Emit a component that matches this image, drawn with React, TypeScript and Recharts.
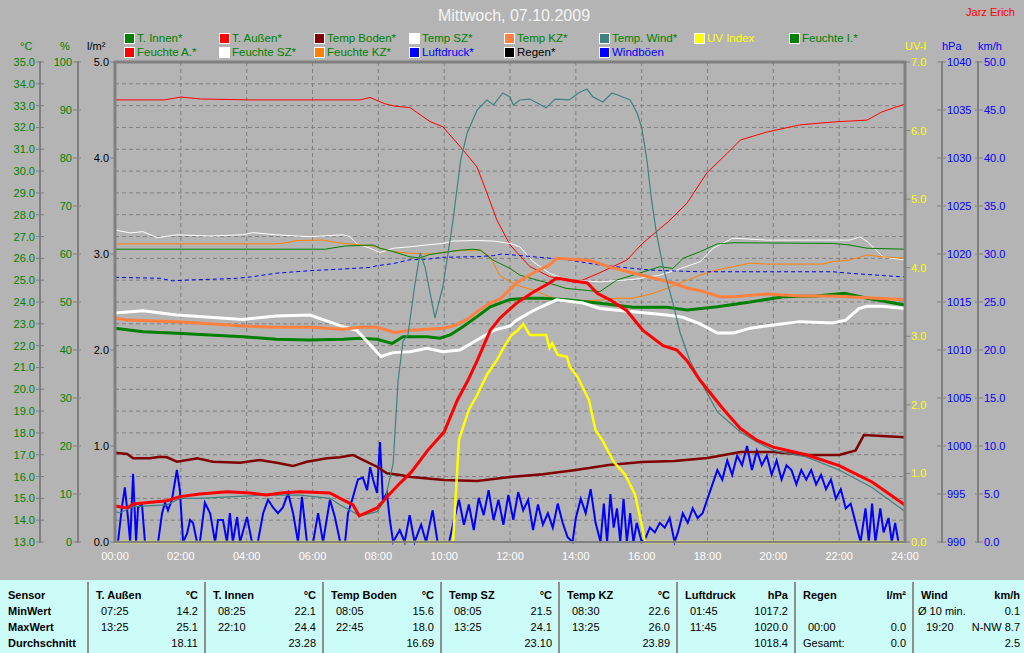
import React from 'react';
import { LineChart, Line, XAxis, YAxis, CartesianGrid } from 'recharts';

type Pt = [number, number];

// axis ticks
const hourTicks = [0, 2, 4, 6, 8, 10, 12, 14, 16, 18, 20, 22, 24];
const tempTicks = [13, 14, 15, 16, 17, 18, 19, 20, 21, 22, 23, 24, 25, 26, 27, 28, 29, 30, 31, 32, 33, 34, 35];
const humTicks = [0, 10, 20, 30, 40, 50, 60, 70, 80, 90, 100];
const rainTicks = [0, 1, 2, 3, 4, 5];
const uvTicks = [0, 1, 2, 3, 4, 5, 6, 7];
const hpaTicks = [990, 995, 1000, 1005, 1010, 1015, 1020, 1025, 1030, 1035, 1040];
const kmhTicks = [0, 5, 10, 15, 20, 25, 30, 35, 40, 45, 50];

// series, [hour, value]
const tInnen: Pt[] = [
  [0, 22.8], [0.85, 22.64], [1.88, 22.57], [2.88, 22.49], [3.88, 22.41], [4.9, 22.29], [5.92, 22.26],
  [6.93, 22.29], [7.44, 22.34], [7.96, 22.29], [8.42, 22.1], [8.75, 22.41], [9.48, 22.41], [9.87, 22.34],
  [10.18, 22.49], [10.57, 22.87], [11.0, 23.33], [11.4, 23.78], [12.0, 24.12], [12.5, 24.17], [13.0, 24.17],
  [13.73, 24.1], [14.73, 23.94], [15.74, 23.76], [16.77, 23.76], [17.38, 23.63], [18.3, 23.78], [19.3, 24.0],
  [20.3, 24.24], [21.3, 24.27], [22.17, 24.4], [22.85, 24.17], [24, 23.86],
];
const tAussen: Pt[] = [
  [0, 14.65], [0.37, 14.56], [0.55, 14.74], [1.58, 14.89], [1.97, 15.08], [2.58, 15.2], [3.4, 15.3],
  [4.1, 15.25], [4.6, 15.15], [5.1, 15.26], [5.62, 15.3], [6.53, 15.25], [6.84, 15.0], [7.23, 14.7],
  [7.42, 14.2], [7.96, 14.56], [8.26, 15.06], [8.66, 15.7], [9.0, 16.2], [9.5, 17.2], [10.0, 18.05],
  [10.4, 19.5], [10.72, 20.4], [11.0, 21.3], [11.4, 22.7], [11.7, 23.27], [12.2, 23.95], [12.7, 24.45],
  [13.2, 24.87], [13.42, 25.1], [13.8, 25.0], [14.35, 24.87], [14.65, 24.4], [15.04, 24.1], [15.55, 23.6],
  [16.04, 22.7], [16.65, 22.0], [17.07, 21.8], [17.38, 21.3], [17.78, 20.4], [18.5, 19.05], [19.0, 18.2],
  [19.5, 17.67], [20.0, 17.35], [21.0, 17.0], [22.0, 16.5], [23.0, 15.75], [24, 14.7],
];
const tBoden: Pt[] = [
  [0, 17.09], [0.37, 17.03], [0.55, 16.84], [1.06, 16.84], [1.37, 16.91], [1.58, 16.88], [1.88, 16.68],
  [2.2, 16.76], [2.5, 16.84], [2.98, 16.68], [3.8, 16.63], [4.4, 16.76], [5.0, 16.61], [5.4, 16.48],
  [5.83, 16.68], [6.44, 16.84], [6.84, 16.88], [7.23, 16.99], [7.53, 16.76], [7.96, 16.45], [8.26, 16.15],
  [8.66, 16.07], [9.0, 15.98], [10.0, 15.84], [11.0, 15.8], [12.0, 15.98], [13.0, 16.1], [14.0, 16.3],
  [15.0, 16.53], [16.0, 16.67], [17.0, 16.71], [18.0, 16.85], [19.0, 17.12], [20.0, 17.12], [21.0, 16.99],
  [22.0, 16.99], [22.5, 17.2], [22.75, 17.9], [23.3, 17.86], [24, 17.8],
];
const tSZ: Pt[] = [
  [0, 23.5], [0.85, 23.6], [1.88, 23.4], [2.88, 23.3], [3.88, 23.2], [4.9, 23.36], [5.92, 23.4],
  [6.93, 22.87], [7.35, 22.7], [8.08, 21.5], [8.45, 21.68], [8.96, 21.72], [9.48, 21.88], [9.96, 21.72],
  [10.48, 21.8], [11.0, 22.26], [11.5, 22.7], [12.0, 22.9], [12.2, 23.17], [12.7, 23.6], [13.2, 23.95],
  [13.42, 24.1], [14.22, 23.95], [14.73, 23.7], [15.74, 23.55], [16.77, 23.4], [17.25, 23.3], [17.78, 23.0],
  [18.3, 22.58], [18.8, 22.58], [19.3, 22.8], [20.0, 22.95], [20.8, 23.1], [21.8, 23.04], [22.2, 23.17],
  [22.6, 23.7], [22.85, 23.8], [23.3, 23.8], [24, 23.7],
];
const tKZ: Pt[] = [
  [0, 23.27], [0.37, 23.17], [1.88, 23.1], [2.88, 23.0], [3.88, 22.9], [4.9, 22.84], [5.92, 22.84],
  [6.93, 22.75], [7.44, 22.84], [7.96, 22.84], [8.5, 22.6], [8.96, 22.7], [9.48, 22.75], [9.96, 22.8],
  [10.27, 22.9], [10.7, 23.2], [11.0, 23.56], [11.4, 23.95], [11.7, 24.14], [12.2, 24.87], [12.7, 25.33],
  [13.2, 25.7], [13.42, 26.0], [14.43, 25.9], [15.04, 25.6], [15.74, 25.33], [16.35, 25.1], [16.95, 24.87],
  [17.38, 24.64], [17.78, 24.52], [18.38, 24.24], [18.8, 24.24], [19.8, 24.37], [20.8, 24.27], [21.8, 24.27],
  [22.85, 24.2], [24, 24.1],
];
const tWind: Pt[] = [
  [0, 14.39], [0.15, 14.33], [0.55, 14.62], [1.58, 14.7], [1.97, 15.0], [2.58, 15.0], [3.58, 15.08],
  [4.6, 15.15], [5.62, 15.15], [6.53, 15.0], [6.84, 14.7], [7.44, 14.2], [7.96, 14.39], [8.2, 14.9],
  [8.45, 16.6], [8.6, 20.4], [8.75, 22.2], [8.9, 22.5], [9.1, 24.7], [9.27, 26.25], [9.42, 25.6],
  [9.72, 23.27], [9.96, 24.7], [10.18, 26.84], [10.27, 27.76], [10.5, 30.5], [10.7, 31.75], [11.0, 32.8],
  [11.3, 33.26], [11.5, 33.03], [11.78, 33.58], [12.0, 33.4], [12.1, 33.03], [12.3, 33.26], [12.6, 33.3],
  [13.1, 32.9], [13.37, 33.3], [13.8, 33.26], [14.1, 33.6], [14.34, 33.76], [14.52, 33.4], [14.82, 33.17],
  [15.1, 33.58], [15.35, 33.44], [15.65, 33.26], [15.86, 32.66], [16.0, 32.0], [16.16, 30.5], [16.3, 28.67],
  [16.45, 27.16], [16.65, 25.6], [16.95, 23.95], [17.17, 22.58], [17.47, 21.3], [17.78, 20.4], [18.3, 18.96],
  [19.0, 18.04], [19.5, 17.58], [20.0, 17.2], [21.0, 16.9], [22.0, 16.3], [23.0, 15.5], [24, 14.4],
];
const uvIndex: Pt[] = [
  [0, 0], [10.27, 0], [10.45, 1.49], [10.75, 1.93], [11.0, 2.14], [11.3, 2.44], [11.6, 2.65], [11.85, 2.87],
  [12.05, 3.02], [12.25, 3.09], [12.4, 3.18], [12.6, 3.02], [13.1, 3.02], [13.2, 2.83], [13.28, 2.9],
  [13.45, 2.73], [13.73, 2.7], [13.82, 2.55], [14.05, 2.41], [14.4, 2.07], [14.6, 1.63], [14.8, 1.49],
  [15.15, 1.17], [15.5, 0.98], [15.8, 0.69], [16.0, 0.25], [16.1, 0], [24, 0],
];
const feuchteI: Pt[] = [
  [0, 61.0], [6.4, 61.0], [6.6, 61.25], [7.0, 61.67], [7.84, 61.88], [8.05, 61.2], [8.45, 60.5],
  [8.96, 59.4], [9.27, 59.2], [9.57, 59.9], [9.96, 60.3], [10.48, 60.8], [10.88, 61.0], [11.1, 60.8],
  [11.48, 58.75], [12.0, 57.0], [12.3, 55.6], [12.8, 54.6], [13.2, 53.9], [13.7, 52.85], [14.2, 52.5],
  [14.73, 52.15], [15.25, 54.6], [15.74, 55.6], [16.25, 56.7], [16.55, 57.35], [16.95, 57.0], [17.26, 59.1],
  [17.78, 60.5], [18.3, 62.1], [18.8, 62.35], [21.8, 62.2], [22.3, 61.9], [22.85, 61.2], [24, 61.0],
];
const feuchteA: Pt[] = [
  [0, 92.1], [1.5, 92.1], [2.0, 92.7], [2.6, 92.3], [4.1, 92.1], [7.44, 92.1], [7.75, 92.6], [8.2, 91.3],
  [8.5, 90.8], [8.96, 90.5], [9.57, 87.6], [9.96, 86.5], [10.57, 81.7], [11.0, 78.1], [11.3, 72.7],
  [11.6, 67.1], [12.0, 61.9], [12.6, 57.4], [13.2, 55.3], [14.0, 54.0], [14.7, 56.0], [15.55, 58.75],
  [16.04, 62.3], [16.77, 66.5], [17.38, 70.6], [17.98, 76.9], [18.6, 81.0], [19.0, 83.75], [19.8, 85.4],
  [20.8, 86.9], [21.8, 87.5], [22.85, 87.9], [23.3, 89.6], [24, 91.25],
];
const feuchteSZ: Pt[] = [
  [0, 65.0], [0.46, 64.4], [0.85, 64.65], [1.28, 63.4], [1.88, 64.0], [2.88, 63.75], [3.88, 64.0],
  [4.19, 64.45], [4.9, 64.0], [5.92, 63.6], [6.93, 64.0], [7.14, 63.6], [7.35, 62.1], [7.75, 61.2],
  [8.05, 60.3], [8.45, 61.2], [8.96, 61.5], [9.48, 61.9], [9.96, 62.2], [10.27, 62.7], [11.0, 62.8],
  [11.5, 62.7], [12.0, 62.2], [12.3, 61.5], [12.7, 58.4], [13.2, 56.0], [13.73, 54.6], [14.73, 54.2],
  [15.74, 54.7], [16.55, 55.6], [17.07, 56.7], [17.78, 58.4], [18.17, 61.2], [18.77, 63.3], [19.8, 62.9],
  [22.33, 62.9], [22.63, 63.6], [22.85, 62.6], [23.33, 59.4], [24, 58.75],
];
const feuchteKZ: Pt[] = [
  [0, 62.1], [4.9, 62.1], [5.22, 62.35], [5.53, 62.8], [6.32, 62.9], [6.53, 62.6], [6.93, 62.2],
  [7.84, 61.7], [8.05, 61.2], [8.45, 60.5], [8.96, 60.15], [9.57, 60.0], [9.96, 60.3], [10.27, 60.6],
  [10.7, 60.8], [11.1, 60.8], [11.4, 59.4], [11.7, 55.4], [12.2, 53.5], [12.7, 52.5], [13.2, 51.1],
  [13.73, 50.1], [14.73, 50.4], [15.25, 50.8], [15.74, 50.8], [16.35, 51.8], [16.77, 52.85], [17.26, 54.2],
  [17.78, 55.6], [18.3, 56.7], [18.77, 57.35], [19.3, 58.1], [19.8, 57.9], [21.5, 57.9], [21.8, 58.4],
  [22.33, 58.75], [22.85, 59.8], [23.33, 59.4], [24, 59.1],
];
const luftdruck: Pt[] = [
  [0, 1017.57], [1.37, 1017.47], [1.75, 1017.2], [2.28, 1017.3], [2.88, 1017.36], [3.7, 1017.47],
  [4.1, 1017.6], [4.9, 1018.0], [5.92, 1018.26], [6.93, 1018.44], [7.75, 1018.6], [7.96, 1018.78],
  [8.45, 1019.0], [8.96, 1019.4], [9.48, 1019.45], [9.96, 1019.66], [11.0, 1019.72], [11.5, 1019.83],
  [11.75, 1020.0], [12.7, 1019.72], [13.73, 1019.4], [14.73, 1018.85], [15.74, 1018.5], [16.25, 1018.33],
  [16.77, 1018.26], [17.78, 1018.15], [21.8, 1018.15], [22.33, 1017.99], [24, 1017.6],
];
const regen: Pt[] = [[0, 0], [24, 0]];
const windboeen: Pt[] = [
  [0, 0], [0.09, 0], [0.21, 3.6], [0.3, 5.7], [0.4, 2.3], [0.46, 0], [0.55, 7.1], [0.64, 0], [0.7, 3.6],
  [0.82, 3.9], [0.91, 0], [1.31, 0], [1.43, 3.0], [1.52, 4.1], [1.61, 3.3], [1.73, 4.4], [1.88, 7.5],
  [1.97, 5.4], [2.07, 0], [2.19, 0.9], [2.28, 2.3], [2.37, 2.0], [2.49, 0], [2.58, 0], [2.73, 4.1],
  [2.89, 3.0], [3.04, 0], [3.13, 2.3], [3.28, 2.3], [3.4, 0], [3.49, 3.0], [3.58, 0], [3.71, 2.6],
  [3.8, 0], [4.01, 2.6], [4.16, 0], [4.34, 0], [4.5, 3.0], [4.65, 4.4], [4.8, 3.6], [4.95, 3.0],
  [5.1, 3.6], [5.26, 5.1], [5.41, 3.0], [5.56, 0], [5.68, 4.7], [5.83, 0], [6.02, 0], [6.17, 3.0],
  [6.32, 0], [6.53, 4.4], [6.68, 2.6], [6.84, 0], [6.99, 0], [7.08, 3.0], [7.23, 4.7], [7.38, 6.5],
  [7.53, 6.7], [7.66, 5.4], [7.75, 7.8], [7.84, 6.5], [7.96, 5.1], [8.05, 10.4], [8.14, 4.4], [8.26, 5.1],
  [8.35, 2.3], [8.45, 0], [8.65, 1.25], [8.8, 0], [8.95, 2.8], [9.1, 0], [9.3, 1.8], [9.45, 0],
  [9.65, 3.3], [9.8, 0], [10.15, 0], [10.3, 2.3], [10.45, 4.4], [10.6, 1.8], [10.75, 3.9], [10.9, 1.25],
  [11.05, 4.6], [11.2, 2.8], [11.35, 5.4], [11.5, 2.3], [11.65, 4.4], [11.8, 1.8], [11.95, 4.9],
  [12.1, 2.3], [12.25, 5.2], [12.4, 3.3], [12.55, 4.4], [12.7, 1.25], [12.85, 3.9], [13.0, 1.8],
  [13.15, 3.0], [13.3, 1.5], [13.45, 4.0], [13.6, 2.0], [13.75, 0.5], [13.9, 0], [14.0, 2.5], [14.15, 4.5],
  [14.3, 3.0], [14.45, 5.5], [14.6, 2.0], [14.75, 0], [14.85, 4.0], [14.95, 0], [15.05, 5.0], [15.15, 1.5],
  [15.25, 3.5], [15.35, 0], [15.45, 4.5], [15.55, 0], [15.65, 3.0], [15.75, 0], [15.85, 2.0], [16.0, 0],
  [16.1, 0.3], [16.25, 1.5], [16.4, 1.0], [16.55, 2.0], [16.7, 1.5], [16.85, 2.5], [17.0, 0], [17.1, 1.0],
  [17.25, 3.0], [17.4, 2.0], [17.55, 3.5], [17.7, 2.5], [17.85, 3.0], [18.0, 4.5], [18.15, 6.0],
  [18.3, 7.5], [18.45, 6.5], [18.6, 8.5], [18.75, 7.0], [18.9, 9.0], [19.05, 8.0], [19.2, 10.0],
  [19.35, 7.5], [19.5, 9.5], [19.65, 8.0], [19.8, 9.0], [19.95, 7.0], [20.1, 8.5], [20.25, 6.5],
  [20.4, 8.0], [20.55, 7.5], [20.7, 6.0], [20.85, 7.5], [21.0, 6.5], [21.15, 7.5], [21.3, 6.0],
  [21.45, 7.0], [21.6, 5.5], [21.75, 6.5], [21.9, 4.5], [22.05, 5.5], [22.2, 3.5], [22.35, 4.0],
  [22.5, 2.0], [22.65, 0], [22.8, 3.5], [22.9, 0], [23.0, 4.0], [23.1, 0], [23.25, 3.5], [23.35, 1.0],
  [23.5, 2.5], [23.6, 0], [23.7, 2.0], [23.8, 0], [24, 0],
];

// legend
const legendRow1 = [
  { name: 'T. Innen*', box: '#008000', text: '#008000' },
  { name: 'T. Außen*', box: '#ff0000', text: '#008000' },
  { name: 'Temp Boden*', box: '#800000', text: '#008000' },
  { name: 'Temp SZ*', box: '#ffffff', text: '#008000' },
  { name: 'Temp KZ*', box: '#ff8040', text: '#008000' },
  { name: 'Temp. Wind*', box: '#408080', text: '#008000' },
  { name: 'UV Index', box: '#ffff00', text: '#ffff00' },
  { name: 'Feuchte I.*', box: '#008000', text: '#008000' },
];
const legendRow2 = [
  { name: 'Feuchte A.*', box: '#ff0000', text: '#008000' },
  { name: 'Feuchte SZ*', box: '#ffffff', text: '#008000' },
  { name: 'Feuchte KZ*', box: '#ff8000', text: '#008000' },
  { name: 'Luftdruck*', box: '#0000ff', text: '#0000ff' },
  { name: 'Regen*', box: '#000000', text: '#000000' },
  { name: 'Windböen', box: '#0000ff', text: '#0000ff' },
];

// summary table
const tblSensor = ['T. Außen', 'T. Innen', 'Temp Boden', 'Temp SZ', 'Temp KZ', 'Luftdruck', 'Regen', 'Wind'];
const tblUnit = ['°C', '°C', '°C', '°C', '°C', 'hPa', 'l/m²', 'km/h'];
const tblMinTime = ['07:25', '08:25', '08:05', '08:05', '08:30', '01:45', '', 'Ø 10 min.'];
const tblMinVal = ['14.2', '22.1', '15.6', '21.5', '22.6', '1017.2', '', '0.1'];
const tblMaxTime = ['13:25', '22:10', '22:45', '13:25', '13:25', '11:45', '00:00', '19:20'];
const tblMaxVal = ['25.1', '24.4', '18.0', '24.1', '26.0', '1020.0', '0.0', 'N-NW 8.7'];
const tblAvgLabel = ['', '', '', '', '', '', 'Gesamt:', ''];
const tblAvgVal = ['18.11', '23.28', '16.69', '23.10', '23.89', '1018.4', '0.0', '2.5'];
const tblColX = [88, 205, 323, 441, 559, 677, 795, 913, 1027];

const FONT = '"Liberation Sans", Arial, sans-serif';
const rows = (pts: Pt[]) => pts.map(([h, v]) => ({ h, v }));

// y tick with a short T-mark crossing the axis line
const yTick = (axisX: number, l1: number, l2: number, color: string, dec: number, side: 'left' | 'right') =>
  (props: any) => {
    const { y, payload } = props;
    return (
      <g>
        <line x1={axisX + l1} x2={axisX + l2} y1={y} y2={y} stroke="#808080" />
        <text
          x={side === 'left' ? axisX + l1 - 1 : axisX + l2 + 1}
          y={y + 4}
          textAnchor={side === 'left' ? 'end' : 'start'}
          fill={color}
          fontSize={11}
          fontFamily={FONT}
        >
          {payload.value.toFixed(dec)}
        </text>
      </g>
    );
  };

const xTick = (props: any) => {
  const { x, payload } = props;
  const h = payload.value;
  return (
    <text x={x} y={560} textAnchor="middle" fill="#ffffff" fontSize={11} fontFamily={FONT}>
      {`${h < 10 ? '0' : ''}${h}:00`}
    </text>
  );
};

const line = (id: string, data: Pt[], color: string, width: number, extra: any = {}) => (
  <Line
    key={id + color + width}
    xAxisId="x"
    yAxisId={id}
    data={rows(data)}
    dataKey="v"
    type="linear"
    stroke={color}
    strokeWidth={width}
    dot={false}
    activeDot={false}
    isAnimationActive={false}
    {...extra}
  />
);

// axis lines drawn on top, at fixed positions
const axisLines = [
  { x: 40, w: 2 }, { x: 78, w: 2 }, { x: 115, w: 3 },
  { x: 905, w: 3 }, { x: 942, w: 2 }, { x: 978, w: 2 },
];

export default function App() {
  const gray = '#808080';
  return (
    <div style={{ position: 'absolute', left: 0, top: 0, width: 1024, height: 653, background: '#b4b4b4', overflow: 'hidden' }}>
      <LineChart width={1024} height={580} margin={{ top: 62, right: 0, bottom: 8, left: 0 }}>
        <CartesianGrid xAxisId="x" yAxisId="t" stroke={gray} strokeDasharray="4 3" />
        <XAxis
          xAxisId="x"
          dataKey="h"
          type="number"
          domain={[0, 24]}
          ticks={hourTicks}
          interval={0}
          height={30}
          tickLine={false}
          axisLine={{ stroke: gray, strokeWidth: 2 }}
          tick={xTick}
        />
        <YAxis yAxisId="t" orientation="left" width={40} domain={[13, 35]} ticks={tempTicks} interval={0} tickLine={false} axisLine={false} tick={yTick(40, -4, 4, '#008000', 1, 'left')} />
        <YAxis yAxisId="hum" orientation="left" width={38} domain={[0, 100]} ticks={humTicks} interval={0} tickLine={false} axisLine={false} tick={yTick(78, -5, 3, '#008000', 0, 'left')} />
        <YAxis yAxisId="rain" orientation="left" width={37} domain={[0, 5]} ticks={rainTicks} interval={0} tickLine={false} axisLine={false} tick={yTick(115, -5, 0, '#000000', 1, 'left')} />
        <YAxis yAxisId="kmh" orientation="right" width={46} domain={[0, 50]} ticks={kmhTicks} interval={0} tickLine={false} axisLine={false} tick={yTick(978, -3, 5, '#0000ff', 1, 'right')} />
        <YAxis yAxisId="hpa" orientation="right" width={36} domain={[990, 1040]} ticks={hpaTicks} interval={0} tickLine={false} axisLine={false} tick={yTick(942, -5, 4, '#0000ff', 0, 'right')} />
        <YAxis yAxisId="uv" orientation="right" width={37} domain={[0, 7]} ticks={uvTicks} interval={0} tickLine={false} axisLine={false} tick={yTick(905, 0, 5, '#ffff00', 1, 'right')} />

        {line('rain', regen, '#000000', 2)}
        {line('hum', feuchteA, '#ff0000', 1)}
        {line('hum', feuchteSZ, '#ffffff', 1)}
        {line('hum', feuchteKZ, '#ff8000', 1)}
        {line('hum', feuchteI, '#008000', 1)}
        {line('hpa', luftdruck, '#0000ff', 1, { strokeDasharray: '4 3' })}
        {line('kmh', windboeen, '#0000ff', 2)}
        {line('t', tInnen, '#008000', 3)}
        {line('t', tSZ, '#ffffff', 3)}
        {line('t', tKZ, '#ff8040', 3)}
        {line('t', tBoden, '#800000', 2.5)}
        {line('t', tWind, '#408080', 1.2)}
        {line('t', tAussen, '#ff0000', 3)}
        {line('uv', uvIndex, '#ffff00', 2.5)}
      </LineChart>

      <svg width={1024} height={653} style={{ position: 'absolute', left: 0, top: 0, pointerEvents: 'none' }} fontFamily={FONT}>
        {axisLines.map((a) => (
          <line key={a.x} x1={a.x} x2={a.x} y1={61} y2={543} stroke="#808080" strokeWidth={a.w} />
        ))}
        <line x1={114} x2={906} y1={62} y2={62} stroke="#808080" strokeWidth={3} />

        <text x={514} y={21} textAnchor="middle" fill="#f4f4f4" fontSize={16}>Mittwoch, 07.10.2009</text>
        <text x={1015} y={16} textAnchor="end" fill="#ff0000" fontSize={11}>Jarz Erich</text>

        {[legendRow1, legendRow2].map((row, r) =>
          row.map((it, i) => (
            <g key={`${r}-${i}`}>
              <rect x={124.5 + i * 95} y={33.5 + r * 14} width={10} height={10} fill={it.box} stroke="#ffffff" />
              <text x={137 + i * 95} y={42 + r * 14} fill={it.text} fontSize={11.5}>{it.name}</text>
            </g>
          )),
        )}

        <text x={20} y={50} fill="#008000" fontSize={11}>°C</text>
        <text x={60} y={50} fill="#008000" fontSize={11}>%</text>
        <text x={87} y={50} fill="#000000" fontSize={11}>l/m²</text>
        <text x={905} y={50} fill="#ffff00" fontSize={11}>UV-I</text>
        <text x={942} y={50} fill="#0000ff" fontSize={11}>hPa</text>
        <text x={978} y={50} fill="#0000ff" fontSize={11}>km/h</text>

        <rect x={0} y={580} width={1024} height={73} fill="#ccfcf8" />
        {['Sensor', 'MinWert', 'MaxWert', 'Durchschnitt'].map((s, i) => (
          <text key={s} x={8} y={599 + i * 16} fontSize={11} fontWeight="bold" fill="#000">{s}</text>
        ))}
        {tblSensor.map((s, i) => {
          const l = tblColX[i];
          const r = tblColX[i + 1] - 7;
          return (
            <g key={s} fontSize={11} fill="#000">
              <line x1={l} x2={l} y1={582} y2={653} stroke="#909090" strokeWidth={2} />
              <text x={l + 8} y={599} fontWeight="bold">{s}</text>
              <text x={r} y={599} fontWeight="bold" textAnchor="end">{tblUnit[i]}</text>
              <text x={l + (i === 7 ? 5 : 13)} y={615}>{tblMinTime[i]}</text>
              <text x={r} y={615} textAnchor="end">{tblMinVal[i]}</text>
              <text x={l + 13} y={631}>{tblMaxTime[i]}</text>
              <text x={r} y={631} textAnchor="end">{tblMaxVal[i]}</text>
              <text x={l + 8} y={647}>{tblAvgLabel[i]}</text>
              <text x={r} y={647} textAnchor="end">{tblAvgVal[i]}</text>
            </g>
          );
        })}
      </svg>
    </div>
  );
}
